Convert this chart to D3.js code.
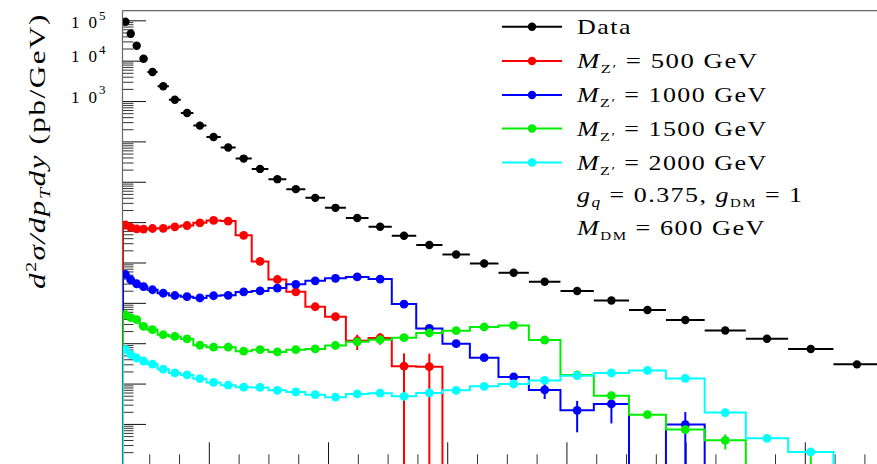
<!DOCTYPE html>
<html>
<head>
<meta charset="utf-8">
<script src="https://cdn.jsdelivr.net/npm/d3@7"></script>
<style>
  body { margin: 0; background: #fff; }
  svg { display: block; }
  text { font-family: "Liberation Serif", "Times New Roman", serif; fill: #000; }
</style>
</head>
<body>
<svg id="chart" width="877" height="464"></svg>
<script>
// pT bin edges (GeV)
const binEdges = [56, 64, 74, 84, 97, 114, 133, 153, 174, 196, 220, 245, 272, 300, 330, 362, 395,
  430, 468, 507, 548, 592, 638, 686, 737, 790, 846, 905, 967, 1032, 1101, 1172, 1248, 1327];

// measured cross section (pb/GeV)
const dataValues = [9.23e4, 4.66e4, 2.35e4, 1.12e4, 5.25e3, 2.32e3, 1.08e3, 507, 246, 129, 70.3,
  37.5, 20.8, 11.6, 6.56, 3.99, 2.26, 1.26, 0.766, 0.458, 0.270, 0.158, 0.0944, 0.0556, 0.0333,
  0.0196, 0.01146, 0.00664, 0.00375, 0.00207, 0.00129, 7.18e-4, 2.99e-4];

// signal predictions, one array per mediator mass (0 = empty bin)
const mz500 = [0.857, 0.743, 0.682, 0.671, 0.695, 0.703, 0.766, 0.824, 0.962, 1.10, 1.06, 0.471,
  0.106, 0.0379, 0.0188, 0.0080, 0.00453, 0.00115, 0.00135, 2.70e-4, 2.62e-4,
  0, 0, 0, 0, 0, 0, 0, 0, 0, 0, 0, 0];
const mz500Err = [0, 0, 0, 0, 0, 0, 0, 0, 0, 0, 0, 0, 0, 0, 0, 0, 0, 4.7e-4, 4.3e-4, 2.9e-4, 2.9e-4,
  0, 0, 0, 0, 0, 0, 0, 0, 0, 0, 0, 0];

const mz1000 = [0.0505, 0.0373, 0.0297, 0.0251, 0.0211, 0.0173, 0.0152, 0.0142, 0.0132, 0.0150,
  0.0154, 0.0186, 0.0197, 0.0232, 0.0288, 0.0352, 0.0406, 0.0438, 0.0388, 0.00933, 0.00232,
  9.72e-4, 4.38e-4, 1.46e-4, 6.94e-5, 2.17e-5, 3.13e-5, 0, 9.62e-6, 0, 0, 0, 0];
const mz1000Err = [0, 0, 0, 0, 0, 0, 0, 0, 0, 0, 0, 0, 0, 0, 0, 0, 0, 0, 0, 0, 0, 0, 0, 1.5e-5,
  2.8e-5, 1.55e-5, 2.1e-5, 0, 1.0e-5, 0, 0, 0, 0];

const mz1500 = [5.07e-3, 4.28e-3, 3.82e-3, 2.61e-3, 2.16e-3, 1.62e-3, 1.47e-3, 1.28e-3, 8.91e-4,
  7.96e-4, 7.96e-4, 6.34e-4, 6.90e-4, 6.09e-4, 6.90e-4, 7.23e-4, 8.77e-4, 1.08e-3, 1.22e-3,
  1.37e-3, 1.79e-3, 2.04e-3, 2.52e-3, 2.76e-3, 1.20e-3, 1.63e-4, 5.01e-5, 1.70e-5, 7.23e-6,
  3.93e-6, 0, 8.0e-7, 0];
const mz1500Err = [0, 0, 0, 0, 0, 0, 0, 0, 0, 0, 0, 0, 0, 0, 0, 0, 0, 0, 0, 0, 0, 0, 0, 0, 0, 0, 0,
  0, 1.5e-6, 1.6e-6, 0, 7.8e-7, 0];

const mz2000 = [7.03e-4, 5.19e-4, 4.30e-4, 3.62e-4, 3.05e-4, 2.27e-4, 1.83e-4, 1.64e-4, 1.32e-4,
  1.07e-4, 9.12e-5, 8.14e-5, 8.05e-5, 6.79e-5, 6.19e-5, 5.31e-5, 4.60e-5, 5.53e-5, 5.78e-5,
  4.82e-5, 5.85e-5, 6.79e-5, 8.53e-5, 9.77e-5, 1.20e-4, 1.57e-4, 1.83e-4, 2.11e-4, 1.34e-4,
  1.91e-5, 4.41e-6, 2.03e-6, 0];
const mz2000Err = new Array(33).fill(0);

// axis ticks
const yMajorTicks = [1e-6, 1e-5, 1e-4, 1e-3, 1e-2, 1e-1, 1, 10, 100, 1e3, 1e4, 1e5];
const yLabelledExponents = [5, 4, 3];
const xMajorTicks = [200, 400, 600, 800, 1000, 1200];
const xMinorStep = 50;

// legend entries
const legendLabels = ["Data", "500", "1000", "1500", "2000"];
const couplingText = { gq: "0.375", gdm: "1", mdm: "600" };

(function draw() {
const svg = d3.select("#chart");
const W = 877, H = 464;

const frameLeft = 123, frameTop = 10.7, frameBottom = 464.3;
const x = d3.scaleLinear().domain([56, 1327]).range([frameLeft, 880.5]);
const y = d3.scaleLog().domain([1e-6, 1.73e5]).range([frameBottom, frameTop]);
const yFloor = frameBottom + 8;
const yv = v => (v > 0 ? y(v) : yFloor);

// clip region of the frame
svg.append("defs").append("clipPath").attr("id", "frame")
  .append("rect").attr("x", frameLeft).attr("y", frameTop)
  .attr("width", W - frameLeft + 10).attr("height", frameBottom - frameTop);

// y axis ticks (pointing into the frame)
const yMinor = [];
yMajorTicks.forEach(m => { for (let k = 2; k <= 9; k++) if (m * k < 1.73e5) yMinor.push(m * k); });
svg.append("g").attr("transform", `translate(${frameLeft},0)`)
  .call(d3.axisLeft(y).tickValues(yMajorTicks).tickSize(-23).tickFormat(""))
  .call(g => g.select(".domain").remove())
  .call(g => g.selectAll("line").attr("stroke", "#111"));
svg.append("g").attr("transform", `translate(${frameLeft},0)`)
  .call(d3.axisLeft(y).tickValues(yMinor).tickSize(-10.5).tickFormat(""))
  .call(g => g.select(".domain").remove())
  .call(g => g.selectAll("line").attr("stroke", "#333"));

// x axis ticks (pointing up into the frame)
const xMinor = d3.range(100, 1327, xMinorStep).filter(v => !xMajorTicks.includes(v));
svg.append("g").attr("transform", `translate(0,${frameBottom})`)
  .call(d3.axisBottom(x).tickValues(xMajorTicks).tickSize(-22).tickFormat(""))
  .call(g => g.select(".domain").remove())
  .call(g => g.selectAll("line").attr("stroke", "#111"));
svg.append("g").attr("transform", `translate(0,${frameBottom})`)
  .call(d3.axisBottom(x).tickValues(xMinor).tickSize(-10).tickFormat(""))
  .call(g => g.select(".domain").remove())
  .call(g => g.selectAll("line").attr("stroke", "#333"));

// frame lines
svg.append("line").attr("x1", frameLeft - 0.5).attr("x2", W).attr("y1", frameTop).attr("y2", frameTop)
  .attr("stroke", "#666").attr("stroke-width", 1.2);
svg.append("line").attr("x1", frameLeft - 0.5).attr("x2", frameLeft - 0.5).attr("y1", frameTop).attr("y2", H)
  .attr("stroke", "#666").attr("stroke-width", 1.2);

// y tick labels: 10^n (the top one is pushed down to stay inside the pad)
yLabelledExponents.forEach(e => {
  const ty = y(Math.pow(10, e));
  const base = e === 5 ? ty + 8 : ty + 1.5;
  svg.append("text").attr("x", 71).attr("y", base)
    .attr("font-size", 17).attr("textLength", 26).attr("lengthAdjust", "spacing").text("10");
  svg.append("text").attr("x", 99).attr("y", base - 8.5)
    .attr("font-size", 13).text(String(e));
});

// y axis title
const title = svg.append("text")
  .attr("transform", "translate(45,151) rotate(-90)")
  .attr("text-anchor", "middle").attr("font-size", 23.5).attr("letter-spacing", 1.2)
  .attr("textLength", 276).attr("lengthAdjust", "spacingAndGlyphs");
title.append("tspan").attr("font-style", "italic").text("d");
title.append("tspan").attr("font-size", 15).attr("dy", -9).text("2");
title.append("tspan").attr("font-style", "italic").attr("dy", 9).text("σ/dp");
title.append("tspan").attr("font-style", "italic").attr("font-size", 15).attr("dy", 5).text("T");
title.append("tspan").attr("font-style", "italic").attr("dy", -5).text("dy");
title.append("tspan").text(" (pb/GeV)");

const plot = svg.append("g").attr("clip-path", "url(#frame)");

const nb = binEdges.length - 1;
const centers = d3.range(nb).map(i => (binEdges[i] + binEdges[i + 1]) / 2);

// data: points with horizontal bin-width bars
const dataG = plot.append("g");
dataG.selectAll("line").data(dataValues).join("line")
  .attr("x1", (d, i) => x(binEdges[i])).attr("x2", (d, i) => x(binEdges[i + 1]))
  .attr("y1", d => y(d)).attr("y2", d => y(d))
  .attr("stroke", "#000").attr("stroke-width", 2);
dataG.selectAll("circle").data(dataValues).join("circle")
  .attr("cx", (d, i) => x(centers[i])).attr("cy", d => y(d)).attr("r", 4.2).attr("fill", "#000");

// signal histograms: step outline, markers, vertical errors
const signals = [
  { vals: mz500, errs: mz500Err, color: "#ff0000" },
  { vals: mz1000, errs: mz1000Err, color: "#0000ff" },
  { vals: mz1500, errs: mz1500Err, color: "#00ee00" },
  { vals: mz2000, errs: mz2000Err, color: "#00ffff" }
];
signals.forEach(s => {
  const g = plot.append("g");
  let p = `M${x(binEdges[0])},${yFloor}`;
  s.vals.forEach((v, i) => {
    p += `V${yv(v)}H${x(binEdges[i + 1])}`;
  });
  p += `V${yFloor}`;
  g.append("path").attr("d", p).attr("fill", "none").attr("stroke", s.color).attr("stroke-width", 2);
  const pts = s.vals.map((v, i) => ({ v, e: s.errs[i], c: centers[i] })).filter(d => d.v > 0);
  g.selectAll("line.err").data(pts.filter(d => d.e > 0)).join("line").attr("class", "err")
    .attr("x1", d => x(d.c)).attr("x2", d => x(d.c))
    .attr("y1", d => y(d.v + d.e)).attr("y2", d => (d.v - d.e > 0 ? y(d.v - d.e) : yFloor))
    .attr("stroke", s.color).attr("stroke-width", 2);
  g.selectAll("circle").data(pts).join("circle")
    .attr("cx", d => x(d.c)).attr("cy", d => y(d.v)).attr("r", 4.4).attr("fill", s.color);
});

// legend
const legColors = ["#000", "#ff0000", "#0000ff", "#00ee00", "#00ffff"];
const rowY = [26.7, 61, 95, 128.5, 162.5];
const legWidths = [55, 181.7, 190.7, 190.7, 190.7];
legendLabels.forEach((lab, i) => {
  const ry = rowY[i];
  svg.append("line").attr("x1", 502).attr("x2", 562).attr("y1", ry).attr("y2", ry)
    .attr("stroke", legColors[i]).attr("stroke-width", 2);
  svg.append("circle").attr("cx", 532).attr("cy", ry).attr("r", 4.2).attr("fill", legColors[i]);
  const t = svg.append("text").attr("x", 577).attr("y", ry + 7.2).attr("font-size", 21)
    .attr("letter-spacing", 1.2)
    .attr("textLength", legWidths[i]).attr("lengthAdjust", "spacingAndGlyphs");
  if (i === 0) {
    t.text(lab);
  } else {
    t.append("tspan").attr("font-style", "italic").text("M");
    t.append("tspan").attr("font-size", 13).attr("dy", 5).text("Z′");
    t.append("tspan").attr("dy", -5).text(` = ${lab} GeV`);
  }
});
const gq = svg.append("text").attr("x", 577).attr("y", 201.5).attr("font-size", 21)
  .attr("letter-spacing", 1.2)
  .attr("textLength", 226.5).attr("lengthAdjust", "spacingAndGlyphs");
gq.append("tspan").attr("font-style", "italic").text("g");
gq.append("tspan").attr("font-style", "italic").attr("font-size", 14).attr("dy", 5).text("q");
gq.append("tspan").attr("dy", -5).text(` = ${couplingText.gq}, `);
gq.append("tspan").attr("font-style", "italic").text("g");
gq.append("tspan").attr("font-size", 12).attr("dy", 5).text("DM");
gq.append("tspan").attr("dy", -5).text(` = ${couplingText.gdm}`);
const mdm = svg.append("text").attr("x", 577).attr("y", 235).attr("font-size", 21)
  .attr("letter-spacing", 1.2)
  .attr("textLength", 189).attr("lengthAdjust", "spacingAndGlyphs");
mdm.append("tspan").attr("font-style", "italic").text("M");
mdm.append("tspan").attr("font-size", 12).attr("dy", 5).text("DM");
mdm.append("tspan").attr("dy", -5).text(` = ${couplingText.mdm} GeV`);
})();
</script>
</body>
</html>
